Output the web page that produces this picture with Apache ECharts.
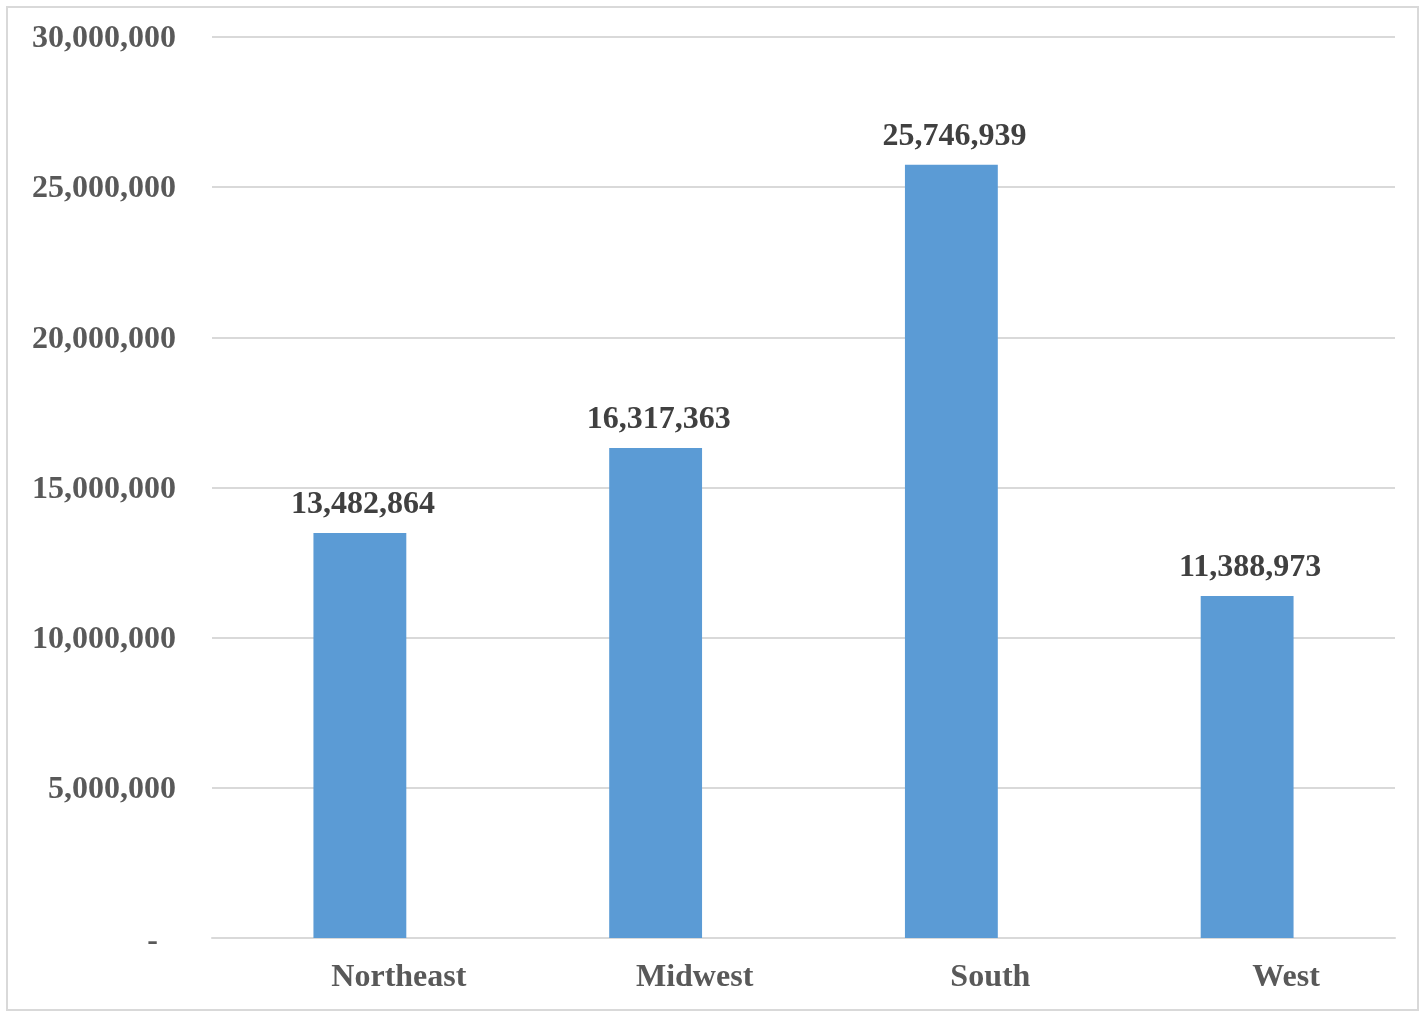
<!DOCTYPE html>
<html>
<head>
<meta charset="utf-8">
<style>
  html, body { margin: 0; padding: 0; background: #fff; }
  #chart { width: 1425px; height: 1013px; }
</style>
<script src="https://cdn.jsdelivr.net/npm/echarts@6.0.0/dist/echarts.min.js"></script>
</head>
<body>
<div id="chart"></div>
<script>
// 地区人口数据
var regions = ['Northeast', 'Midwest', 'South', 'West'];
var population = [13482864, 16317363, 25746939, 11388973];
var yTicks = { min: 0, max: 30000000, interval: 5000000 };

var fmt = function (v) {
    return v.toLocaleString('en-US');
};

var chart = echarts.init(document.getElementById('chart'));
chart.setOption({
    animation: false,
    textStyle: { fontFamily: '"Liberation Serif", "Times New Roman", serif' },
    graphic: [{
        type: 'rect',
        shape: { x: 7, y: 7, width: 1411, height: 1003 },
        style: { fill: 'none', stroke: '#d9d9d9', lineWidth: 2 },
        silent: true,
    }],
    grid: { left: 212, right: 30, top: 37, bottom: 75 },
    xAxis: {
        type: 'category',
        data: regions,
        axisLine: { lineStyle: { color: '#d9d9d9', width: 2 } },
        axisTick: { show: false },
        axisLabel: {
            margin: 24,
            padding: [0, 0, 0, 78],
            color: '#595959',
            fontSize: 32,
            fontWeight: 'bold',
            fontFamily: '"Liberation Serif", serif',
        },
    },
    yAxis: {
        type: 'value',
        min: yTicks.min,
        max: yTicks.max,
        interval: yTicks.interval,
        axisLine: { show: false },
        axisTick: { show: false },
        splitLine: { lineStyle: { color: '#d9d9d9', width: 2 } },
        axisLabel: {
            margin: 36,
            padding: [4, 0, 0, 0],
            color: '#595959',
            fontSize: 32,
            fontWeight: 'bold',
            fontFamily: '"Liberation Serif", serif',
            // 会计格式：0 显示为 "-"
            formatter: function (v) { return v === 0 ? '{d|-}' : fmt(v); },
            rich: {
                d: {
                    padding: [4, 18, 0, 0],
                    color: '#595959',
                    fontSize: 32,
                    fontWeight: 'bold',
                    fontFamily: '"Liberation Serif", serif',
                },
            },
        },
    },
    series: [{
        type: 'bar',
        data: population,
        barWidth: '31.4%',
        itemStyle: { color: '#5b9bd5' },
        label: {
            show: true,
            position: 'top',
            distance: 12,
            offset: [3, 0],
            color: '#404040',
            fontSize: 32,
            fontWeight: 'bold',
            fontFamily: '"Liberation Serif", serif',
            formatter: function (p) { return fmt(p.value); },
        },
    }],
});

window.addEventListener('resize', () => chart.resize());
</script>
</body>
</html>
